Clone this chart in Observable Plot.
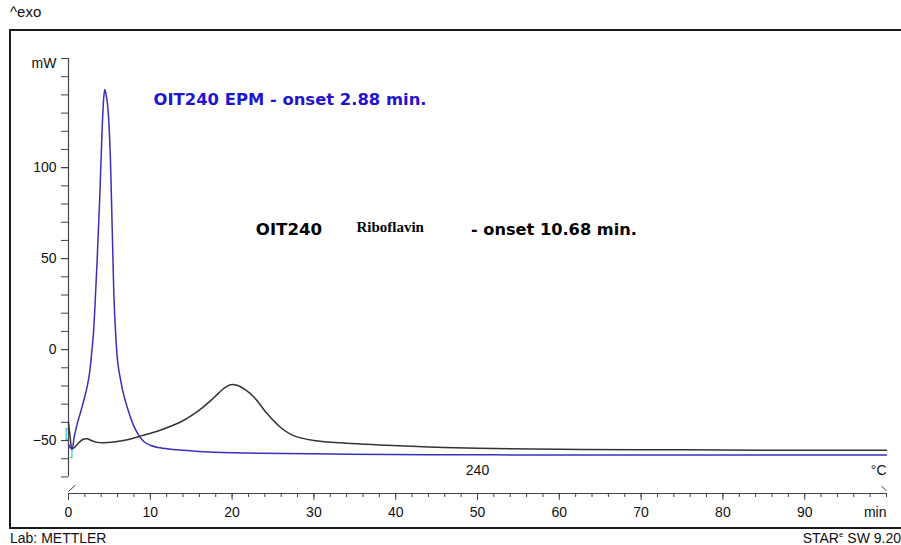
<!DOCTYPE html>
<html>
<head>
<meta charset="utf-8">
<script src="https://cdn.jsdelivr.net/npm/d3@7"></script>
<script src="https://cdn.jsdelivr.net/npm/@observablehq/plot@0.6"></script>
<style>
  html, body { margin: 0; padding: 0; background: #fff; }
  #wrap { position: relative; width: 901px; height: 545px; overflow: hidden; font-family: "Liberation Sans", Arial, sans-serif; }
  #wrap svg { position: absolute; left: 0; top: 0; }
  .frame { position: absolute; left: 9px; top: 29px; width: 910px; height: 496px; border: 2px solid #1a1a1a; box-sizing: content-box; }
  .lbl { position: absolute; font-size: 14px; color: #111; white-space: nowrap; }
</style>
</head>
<body>
<div id="wrap">
  <div class="frame"></div>
  <div class="lbl" style="left:10px; top:3px; font-size:15px;">^exo</div>
  <div class="lbl" style="left:10px; top:530px;">Lab: METTLER</div>
  <div class="lbl" style="right:0px; top:530px;">STAR<sup style="font-size:8px">e</sup> SW 9.20</div>
</div>
<script>
// Blue curve: OIT240 EPM (time in min, heat flow in mW)
const epmTime = [0, 0.2, 0.45, 0.7, 1.06, 1.5, 1.87, 2.3, 2.6, 2.85, 3.1, 3.3, 3.5, 3.83, 4.12, 4.3, 4.44, 4.6, 4.85, 5.13, 5.34, 5.54, 5.75, 5.95, 6.3, 6.6, 7.2, 7.8, 8.5, 9.2, 10, 11.2, 13.3, 16, 23.5, 30, 44, 60, 80, 100];
const epmValue = [-52, -53.8, -54.6, -48, -41, -34, -28, -20, -12, -1, 12, 30, 49, 85, 122, 138, 143, 140, 131, 104, 67, 31, 10, -4, -15, -22, -32, -40, -46.5, -50.5, -52.6, -54, -55.1, -56, -57, -57.3, -57.8, -57.9, -58, -58];

// Black curve: OIT240 Riboflavin
const ribTime = [0, 0.2, 0.45, 0.8, 1.3, 1.8, 2.3, 2.8, 3.5, 4.3, 5.5, 7.2, 9, 11.2, 13.7, 15.3, 16.5, 17.8, 19, 19.8, 20.6, 21.6, 22.7, 24.3, 25.9, 27.5, 30, 34, 38, 44, 50, 60, 70, 80, 90, 100];
const ribValue = [-40, -48, -54.5, -53.5, -51, -49.3, -49, -50, -51, -51.2, -50.8, -49.5, -47.3, -44.3, -39.8, -35.5, -31.5, -26.3, -21.3, -19.3, -19.6, -22, -26.2, -35.3, -42.7, -47.3, -50, -51.5, -52.4, -53.5, -54.2, -54.8, -55, -55.2, -55.3, -55.3];

// Axis ticks
const yMajorTicks = [-50, 0, 50, 100];
const yMinorTicks = d3.range(-70, 161, 10);
const xMajorTicks = [0, 10, 20, 30, 40, 50, 60, 70, 80, 90];
const xMinorTicks = d3.range(0, 101, 2);

// Annotations
const blueLabel = "OIT240 EPM - onset 2.88 min.";
const blackLabelA = "OIT240";
const blackLabelB = "Riboflavin";
const blackLabelC = "- onset 10.68 min.";

const epm = epmTime.map((t, i) => ({t, v: epmValue[i]}));
const rib = ribTime.map((t, i) => ({t, v: ribValue[i]}));

const yBottom = -79.1;
const blue = "#3a30b8";
const textBlue = "#2214d2";
const dark = "#333";

const chart = Plot.plot({
  width: 901,
  height: 545,
  marginLeft: 68,
  marginRight: 15,
  marginTop: 58,
  marginBottom: 52,
  x: {domain: [0, 100]},
  y: {domain: [yBottom, 160]},
  style: {fontFamily: "'Liberation Sans', Arial, sans-serif", fontSize: "14px", color: "#111", background: "transparent"},
  marks: [
    // axis lines
    Plot.ruleX([{x: 0, y1: -70, y2: 160}], {x: "x", y1: "y1", y2: "y2", stroke: "#444", strokeWidth: 1.2}),
    Plot.ruleY([{y: yBottom, x1: 0, x2: 100}], {y: "y", x1: "x1", x2: "x2", stroke: "#444", strokeWidth: 1.2}),
    // axis break marks
    Plot.link([{x1: 0, y1: -78, x2: 0.85, y2: -74.5}], {x1: "x1", y1: "y1", x2: "x2", y2: "y2", stroke: "#444"}),
    Plot.link([{x1: 99.4, y1: -75, x2: 100, y2: -77.6}], {x1: "x1", y1: "y1", x2: "x2", y2: "y2", stroke: "#444"}),
    // y axis
    Plot.axisY({ticks: yMinorTicks, tickSize: 7, tickFormat: () => "", label: null, stroke: "#444"}),
    Plot.axisY({ticks: yMajorTicks, tickSize: 7, tickPadding: 5, label: null, stroke: "#444", fontSize: 14}),
    Plot.text(["mW"], {x: 0, y: 157.5, dx: -12, textAnchor: "end", fontSize: 14}),
    // x axis
    Plot.axisX({ticks: xMinorTicks, tickSize: 4, tickFormat: () => "", label: null, anchor: "bottom", stroke: "#444"}),
    Plot.axisX({ticks: xMajorTicks, tickSize: 7, tickPadding: 7, label: null, anchor: "bottom", stroke: "#444", fontSize: 14}),
    Plot.text(["min"], {x: 100, y: yBottom, dy: 19, textAnchor: "end", fontSize: 14}),
    // temperature labels
    Plot.text(["240"], {x: 50, y: -66.5, fontSize: 14}),
    Plot.text(["°C"], {x: 100, y: -66.5, textAnchor: "end", fontSize: 14}),
    // teal markers
    Plot.text(["["], {x: 0, y: -46, dx: -2, fill: "#3aa59a", fontSize: 12}),
    Plot.text(["]"], {x: 0, y: -56.5, dx: 3, fill: "#3aa59a", fontSize: 11}),
    // curves
    Plot.line(rib, {x: "t", y: "v", stroke: dark, strokeWidth: 1.5, curve: "catmull-rom"}),
    Plot.line(epm, {x: "t", y: "v", stroke: blue, strokeWidth: 1.5, curve: "monotone-x"}),
    // annotations
    Plot.text([blueLabel], {x: 10.4, y: 137.4, textAnchor: "start", fill: textBlue, fontWeight: "bold", fontSize: 16.4, fontFamily: "'DejaVu Sans', sans-serif"}),
    Plot.text([blackLabelA], {x: 22.9, y: 65.9, textAnchor: "start", fill: "#000", fontWeight: "bold", fontSize: 16.6, fontFamily: "'DejaVu Sans', sans-serif"}),
    Plot.text([blackLabelB], {x: 35.2, y: 67.5, textAnchor: "start", fill: "#000", fontWeight: "bold", fontSize: 15, fontFamily: "'Liberation Serif', 'Times New Roman', serif", letterSpacing: "1px"}),
    Plot.text([blackLabelC], {x: 49.2, y: 65.9, textAnchor: "start", fill: "#000", fontWeight: "bold", fontSize: 16.2, fontFamily: "'DejaVu Sans', sans-serif"})
  ]
});
document.getElementById("wrap").appendChild(chart);
</script>
</body>
</html>
